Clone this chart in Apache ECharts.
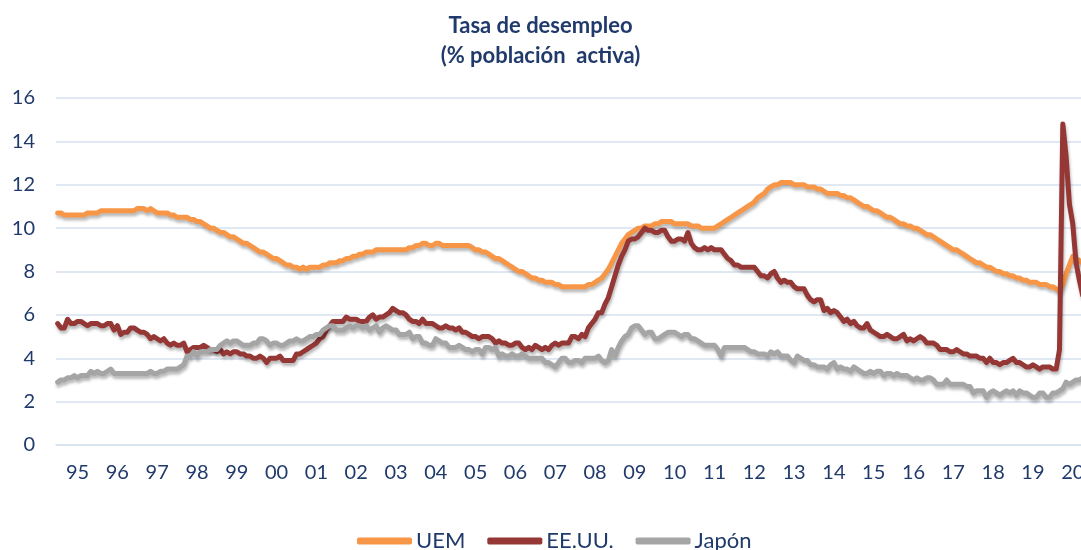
<!DOCTYPE html>
<html>
<head>
<meta charset="utf-8">
<script src="https://cdn.jsdelivr.net/npm/echarts@6/dist/echarts.min.js"></script>
<style>
  html, body { margin: 0; padding: 0; background: #fff; }
  #chart { width: 1081px; height: 550px; }
</style>
</head>
<body>
<div id="chart"></div>
<script>
// years shown on the axis (95 ... 20), monthly data from Jan 1995
var years = ['95','96','97','98','99','00','01','02','03','04','05','06','07','08','09','10','11','12','13','14','15','16','17','18','19','20'];
var yTicks = [0, 2, 4, 6, 8, 10, 12, 14, 16];

// UEM
var uem = [
  10.7,10.7,10.6,10.6,10.6,10.6,10.6,10.6,10.6,10.7,10.7,10.7,
  10.7,10.8,10.8,10.8,10.8,10.8,10.8,10.8,10.8,10.8,10.8,10.8,
  10.9,10.9,10.9,10.8,10.9,10.8,10.7,10.7,10.7,10.7,10.6,10.6,
  10.5,10.5,10.5,10.5,10.4,10.4,10.3,10.3,10.2,10.1,10.0,10.0,
  9.9,9.8,9.8,9.7,9.6,9.6,9.5,9.4,9.3,9.3,9.2,9.1,
  9.0,8.9,8.9,8.8,8.7,8.6,8.6,8.5,8.4,8.3,8.3,8.2,
  8.2,8.1,8.2,8.1,8.2,8.2,8.2,8.2,8.3,8.3,8.4,8.4,
  8.4,8.5,8.5,8.6,8.6,8.7,8.7,8.8,8.8,8.9,8.9,8.9,
  9.0,9.0,9.0,9.0,9.0,9.0,9.0,9.0,9.0,9.0,9.1,9.1,
  9.2,9.2,9.3,9.3,9.2,9.2,9.3,9.3,9.2,9.2,9.2,9.2,
  9.2,9.2,9.2,9.2,9.2,9.1,9.0,9.0,8.9,8.9,8.8,8.7,
  8.6,8.6,8.5,8.4,8.3,8.2,8.1,8.0,8.0,7.9,7.8,7.7,
  7.7,7.6,7.6,7.5,7.5,7.5,7.4,7.4,7.3,7.3,7.3,7.3,
  7.3,7.3,7.3,7.3,7.4,7.4,7.5,7.6,7.7,7.9,8.1,8.4,
  8.7,9.0,9.3,9.5,9.7,9.8,9.9,10.0,10.0,10.1,10.1,10.1,
  10.2,10.2,10.3,10.3,10.3,10.3,10.2,10.2,10.2,10.2,10.2,10.1,
  10.1,10.1,10.0,10.0,10.0,10.0,10.0,10.1,10.2,10.3,10.4,10.5,
  10.6,10.7,10.8,10.9,11.0,11.1,11.2,11.4,11.5,11.6,11.8,11.9,
  12.0,12.0,12.1,12.1,12.1,12.1,12.0,12.0,12.0,12.0,11.9,11.9,
  11.9,11.8,11.8,11.7,11.6,11.6,11.6,11.6,11.5,11.5,11.4,11.4,
  11.3,11.2,11.1,11.0,11.0,10.9,10.8,10.8,10.7,10.6,10.5,10.5,
  10.4,10.3,10.2,10.2,10.1,10.1,10.0,10.0,9.9,9.8,9.7,9.7,
  9.6,9.5,9.4,9.3,9.2,9.1,9.0,9.0,8.9,8.8,8.7,8.6,
  8.5,8.4,8.4,8.3,8.2,8.2,8.1,8.0,8.0,7.9,7.9,7.8,
  7.8,7.7,7.7,7.6,7.6,7.5,7.5,7.5,7.4,7.4,7.4,7.3,
  7.3,7.2,7.1,7.4,7.9,8.3,8.7,8.6,8.5,8.4
];

// EE.UU.
var eeuu = [
  5.6,5.4,5.4,5.8,5.6,5.6,5.7,5.7,5.6,5.5,5.6,5.6,
  5.6,5.5,5.5,5.6,5.6,5.3,5.5,5.1,5.2,5.2,5.4,5.4,
  5.3,5.2,5.2,5.1,4.9,5.0,4.9,4.8,4.9,4.7,4.6,4.7,
  4.6,4.6,4.7,4.3,4.4,4.5,4.5,4.5,4.6,4.5,4.4,4.4,
  4.3,4.4,4.2,4.3,4.2,4.3,4.3,4.2,4.2,4.1,4.1,4.0,
  4.0,4.1,4.0,3.8,4.0,4.0,4.0,4.1,3.9,3.9,3.9,3.9,
  4.2,4.2,4.3,4.4,4.5,4.6,4.7,4.9,5.0,5.3,5.5,5.7,
  5.7,5.7,5.7,5.9,5.8,5.8,5.8,5.7,5.7,5.7,5.9,6.0,
  5.8,5.9,5.9,6.0,6.1,6.3,6.2,6.1,6.1,6.0,5.8,5.7,
  5.7,5.6,5.8,5.6,5.6,5.6,5.5,5.4,5.4,5.5,5.4,5.4,
  5.3,5.4,5.2,5.2,5.1,5.0,5.0,4.9,5.0,5.0,5.0,4.9,
  4.7,4.8,4.7,4.7,4.6,4.6,4.7,4.7,4.5,4.4,4.5,4.4,
  4.6,4.5,4.4,4.5,4.4,4.6,4.7,4.6,4.7,4.7,4.7,5.0,
  5.0,4.9,5.1,5.0,5.4,5.6,5.8,6.1,6.1,6.5,6.8,7.3,
  7.8,8.3,8.7,9.0,9.4,9.5,9.5,9.6,9.8,10.0,9.9,9.9,
  9.8,9.8,9.9,9.9,9.6,9.4,9.4,9.5,9.5,9.4,9.8,9.3,
  9.1,9.0,9.0,9.1,9.0,9.1,9.0,9.0,9.0,8.8,8.6,8.5,
  8.3,8.3,8.2,8.2,8.2,8.2,8.2,8.0,7.8,7.8,7.7,7.9,
  8.0,7.7,7.5,7.6,7.5,7.5,7.3,7.2,7.2,7.2,6.9,6.7,
  6.6,6.7,6.7,6.2,6.3,6.1,6.2,6.1,5.9,5.7,5.8,5.6,
  5.7,5.5,5.4,5.4,5.6,5.3,5.2,5.1,5.0,5.0,5.1,5.0,
  4.9,4.9,5.0,5.1,4.8,4.9,4.8,4.9,5.0,4.9,4.7,4.7,
  4.7,4.6,4.4,4.4,4.4,4.3,4.3,4.4,4.3,4.2,4.2,4.1,
  4.1,4.1,4.0,4.0,3.8,4.0,3.8,3.8,3.7,3.8,3.8,3.9,
  4.0,3.8,3.8,3.7,3.6,3.6,3.7,3.6,3.5,3.6,3.6,3.6,
  3.5,3.5,4.4,14.8,13.3,11.1,10.2,8.4,7.6,6.9
];

// Japón
var japon = [
  2.9,3.0,3.0,3.1,3.1,3.2,3.1,3.2,3.2,3.2,3.4,3.3,
  3.4,3.3,3.3,3.4,3.5,3.3,3.3,3.3,3.3,3.3,3.3,3.3,
  3.3,3.3,3.3,3.3,3.4,3.3,3.3,3.4,3.4,3.5,3.5,3.5,
  3.5,3.6,3.7,4.1,4.1,4.3,4.1,4.3,4.3,4.3,4.4,4.4,
  4.4,4.6,4.7,4.8,4.7,4.8,4.8,4.7,4.6,4.6,4.6,4.7,
  4.7,4.9,4.9,4.8,4.6,4.7,4.7,4.6,4.6,4.7,4.8,4.8,
  4.9,4.8,4.8,4.9,5.0,5.0,5.1,5.1,5.3,5.4,5.5,5.5,
  5.3,5.3,5.3,5.4,5.5,5.4,5.5,5.5,5.4,5.5,5.3,5.4,
  5.5,5.2,5.4,5.5,5.4,5.3,5.3,5.1,5.1,5.1,5.2,4.9,
  5.0,5.0,4.7,4.7,4.6,4.6,4.9,4.8,4.7,4.7,4.5,4.5,
  4.5,4.6,4.5,4.4,4.4,4.3,4.4,4.4,4.2,4.5,4.5,4.4,
  4.5,4.1,4.2,4.1,4.1,4.2,4.1,4.1,4.2,4.1,4.0,4.0,
  4.0,4.0,4.0,3.8,3.8,3.7,3.6,3.8,4.0,4.0,3.8,3.8,
  3.9,3.9,3.8,4.0,4.0,4.0,4.0,4.1,3.9,3.8,3.9,4.4,
  4.1,4.5,4.8,5.0,5.1,5.4,5.5,5.5,5.3,5.1,5.2,5.2,
  4.9,4.9,5.0,5.1,5.2,5.2,5.2,5.1,5.0,5.1,5.1,4.9,
  4.9,4.8,4.7,4.6,4.6,4.6,4.6,4.4,4.1,4.5,4.5,4.5,
  4.5,4.5,4.5,4.5,4.4,4.3,4.3,4.2,4.2,4.2,4.1,4.3,
  4.2,4.3,4.1,4.1,4.1,3.9,3.8,4.1,4.0,3.9,3.9,3.7,
  3.7,3.6,3.6,3.6,3.5,3.7,3.8,3.5,3.6,3.5,3.5,3.4,
  3.6,3.5,3.4,3.3,3.3,3.4,3.3,3.4,3.4,3.2,3.3,3.3,
  3.2,3.3,3.2,3.2,3.2,3.1,3.0,3.1,3.0,3.0,3.1,3.1,
  3.0,2.8,2.8,2.8,3.0,2.8,2.8,2.8,2.8,2.8,2.7,2.7,
  2.4,2.5,2.5,2.5,2.2,2.4,2.5,2.4,2.3,2.4,2.5,2.4,
  2.5,2.3,2.5,2.4,2.4,2.3,2.2,2.2,2.4,2.4,2.2,2.2,
  2.4,2.4,2.5,2.6,2.9,2.8,2.9,3.0,3.0,3.1
];

// one category per month
var months = [];
for (var i = 0; i < years.length; i++) {
  for (var m = 1; m <= 12; m++) {
    months.push(years[i] + '-' + m);
  }
}

var textColor = '#203A6B';
var gridColor = '#D6E1EF';
var font = 'Lato, "Open Sans", sans-serif';

function lineSeries(name, data, color) {
  return {
    name: name,
    type: 'line',
    data: data,
    showSymbol: false,
    symbol: 'none',
    lineStyle: {
      width: 5,
      color: color,
      cap: 'round',
      join: 'round',
      shadowColor: 'rgba(0,0,0,0.28)',
      shadowBlur: 3,
      shadowOffsetX: 1,
      shadowOffsetY: 3
    },
    itemStyle: { color: color },
    animation: false
  };
}

var chart = echarts.init(document.getElementById('chart'));
chart.setOption({
  backgroundColor: '#fff',
  title: {
    text: 'Tasa de desempleo\n(% población  activa)',
    left: 'center',
    top: 6,
    textStyle: {
      color: textColor,
      fontFamily: font,
      fontWeight: 'bold',
      fontSize: 22,
      lineHeight: 30
    }
  },
  legend: {
    bottom: -7,
    left: 352,
    itemWidth: 55,
    itemHeight: 7,
    itemGap: 22,
    icon: 'roundRect',
    textStyle: { color: textColor, fontFamily: font, fontSize: 22, padding: [0, 0, 0, -1] },
    data: ['UEM', 'EE.UU.', 'Japón']
  },
  grid: {
    left: 56,
    top: 98,
    width: 1035,
    bottom: 105,
    outerBoundsMode: 'none'
  },
  xAxis: {
    type: 'category',
    data: months,
    boundaryGap: true,
    axisLine: { lineStyle: { color: gridColor, width: 1.5 } },
    axisTick: {
      interval: function (idx) { return idx % 12 === 0; },
      length: 6,
      lineStyle: { color: gridColor, width: 1.5 }
    },
    axisLabel: {
      interval: function (idx) { return idx % 12 === 6; },
      formatter: function (v) { return v.split('-')[0]; },
      color: textColor,
      fontFamily: font,
      fontSize: 20,
      margin: 18
    },
    splitLine: { show: false }
  },
  yAxis: {
    type: 'value',
    min: yTicks[0],
    max: yTicks[yTicks.length - 1],
    interval: 2,
    axisLine: { show: false },
    axisTick: { show: false },
    axisLabel: {
      color: textColor,
      fontFamily: font,
      fontSize: 20,
      margin: 21
    },
    splitLine: { lineStyle: { color: gridColor, width: 1.5 } }
  },
  series: [
    lineSeries('UEM', uem, '#F79646'),
    lineSeries('EE.UU.', eeuu, '#953735'),
    lineSeries('Japón', japon, '#A5A5A5')
  ]
});
</script>
</body>
</html>
